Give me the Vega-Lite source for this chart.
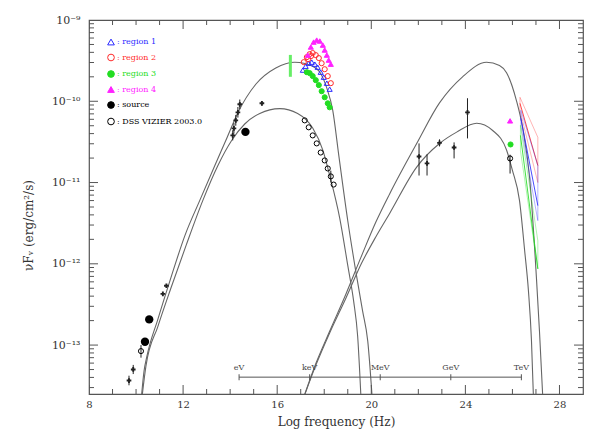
{
  "$schema": "https://vega.github.io/schema/vega-lite/v6.json",
  "width": 494,
  "height": 374,
  "autosize": "none",
  "padding": {"left": 89, "top": 20, "right": 9, "bottom": 42},
  "background": "white",
  "datasets": {
    "curves": [
      {"model": "synchrotron outer", "nu": 10.21, "f": 2.0e-14},
      {"model": "synchrotron outer", "nu": 10.34, "f": 4.79e-14},
      {"model": "synchrotron outer", "nu": 10.46, "f": 7.24e-14},
      {"model": "synchrotron outer", "nu": 10.93, "f": 2.09e-13},
      {"model": "synchrotron outer", "nu": 11.44, "f": 6.17e-13},
      {"model": "synchrotron outer", "nu": 12.08, "f": 2.24e-12},
      {"model": "synchrotron outer", "nu": 12.71, "f": 6.03e-12},
      {"model": "synchrotron outer", "nu": 13.35, "f": 1.62e-11},
      {"model": "synchrotron outer", "nu": 13.82, "f": 3.31e-11},
      {"model": "synchrotron outer", "nu": 14.33, "f": 7.24e-11},
      {"model": "synchrotron outer", "nu": 15.09, "f": 1.62e-10},
      {"model": "synchrotron outer", "nu": 15.94, "f": 2.57e-10},
      {"model": "synchrotron outer", "nu": 16.75, "f": 3.02e-10},
      {"model": "synchrotron outer", "nu": 17.51, "f": 2.69e-10},
      {"model": "synchrotron outer", "nu": 17.81, "f": 2.29e-10},
      {"model": "synchrotron outer", "nu": 18.11, "f": 1.45e-10},
      {"model": "synchrotron outer", "nu": 18.36, "f": 7.76e-11},
      {"model": "synchrotron outer", "nu": 18.62, "f": 2.14e-11},
      {"model": "synchrotron outer", "nu": 19.0, "f": 3.39e-12},
      {"model": "synchrotron outer", "nu": 19.34, "f": 8.13e-13},
      {"model": "synchrotron outer", "nu": 19.63, "f": 2.63e-13},
      {"model": "synchrotron outer", "nu": 19.85, "f": 1.12e-13},
      {"model": "synchrotron outer", "nu": 20.05, "f": 2.0e-14},
      {"model": "synchrotron inner", "nu": 10.23, "f": 2.0e-14},
      {"model": "synchrotron inner", "nu": 10.42, "f": 5.5e-14},
      {"model": "synchrotron inner", "nu": 10.93, "f": 1.7e-13},
      {"model": "synchrotron inner", "nu": 11.48, "f": 5.01e-13},
      {"model": "synchrotron inner", "nu": 12.12, "f": 1.66e-12},
      {"model": "synchrotron inner", "nu": 12.84, "f": 6.03e-12},
      {"model": "synchrotron inner", "nu": 13.48, "f": 1.62e-11},
      {"model": "synchrotron inner", "nu": 14.07, "f": 3.31e-11},
      {"model": "synchrotron inner", "nu": 14.62, "f": 5.25e-11},
      {"model": "synchrotron inner", "nu": 15.26, "f": 7.08e-11},
      {"model": "synchrotron inner", "nu": 16.11, "f": 8.13e-11},
      {"model": "synchrotron inner", "nu": 16.87, "f": 7.08e-11},
      {"model": "synchrotron inner", "nu": 17.51, "f": 4.68e-11},
      {"model": "synchrotron inner", "nu": 17.94, "f": 2.51e-11},
      {"model": "synchrotron inner", "nu": 18.23, "f": 1.23e-11},
      {"model": "synchrotron inner", "nu": 18.66, "f": 3.63e-12},
      {"model": "synchrotron inner", "nu": 19.0, "f": 9.55e-13},
      {"model": "synchrotron inner", "nu": 19.25, "f": 3.47e-13},
      {"model": "synchrotron inner", "nu": 19.42, "f": 1.29e-13},
      {"model": "synchrotron inner", "nu": 19.57, "f": 2.0e-14},
      {"model": "IC outer", "nu": 17.06, "f": 2.0e-14},
      {"model": "IC outer", "nu": 17.64, "f": 5.89e-14},
      {"model": "IC outer", "nu": 18.23, "f": 1.48e-13},
      {"model": "IC outer", "nu": 18.91, "f": 4.17e-13},
      {"model": "IC outer", "nu": 19.59, "f": 1.26e-12},
      {"model": "IC outer", "nu": 20.19, "f": 3.24e-12},
      {"model": "IC outer", "nu": 20.78, "f": 7.24e-12},
      {"model": "IC outer", "nu": 21.93, "f": 3.02e-11},
      {"model": "IC outer", "nu": 22.9, "f": 9.55e-11},
      {"model": "IC outer", "nu": 23.88, "f": 2.0e-10},
      {"model": "IC outer", "nu": 24.9, "f": 3.02e-10},
      {"model": "IC outer", "nu": 25.45, "f": 2.75e-10},
      {"model": "IC outer", "nu": 25.75, "f": 2.24e-10},
      {"model": "IC outer", "nu": 26.17, "f": 1.02e-10},
      {"model": "IC outer", "nu": 26.43, "f": 4.79e-11},
      {"model": "IC outer", "nu": 26.73, "f": 1.15e-11},
      {"model": "IC outer", "nu": 27.02, "f": 6.76e-13},
      {"model": "IC outer", "nu": 27.15, "f": 1.48e-13},
      {"model": "IC outer", "nu": 27.3, "f": 2.0e-14},
      {"model": "IC inner", "nu": 17.06, "f": 2.0e-14},
      {"model": "IC inner", "nu": 17.64, "f": 5.62e-14},
      {"model": "IC inner", "nu": 18.23, "f": 1.41e-13},
      {"model": "IC inner", "nu": 18.91, "f": 3.72e-13},
      {"model": "IC inner", "nu": 19.59, "f": 1.02e-12},
      {"model": "IC inner", "nu": 20.19, "f": 2.14e-12},
      {"model": "IC inner", "nu": 20.78, "f": 4.17e-12},
      {"model": "IC inner", "nu": 21.93, "f": 1.55e-11},
      {"model": "IC inner", "nu": 22.9, "f": 3.02e-11},
      {"model": "IC inner", "nu": 23.63, "f": 4.17e-11},
      {"model": "IC inner", "nu": 24.48, "f": 5.37e-11},
      {"model": "IC inner", "nu": 25.16, "f": 4.37e-11},
      {"model": "IC inner", "nu": 25.75, "f": 2.51e-11},
      {"model": "IC inner", "nu": 26.0, "f": 1.41e-11},
      {"model": "IC inner", "nu": 26.3, "f": 6.03e-12},
      {"model": "IC inner", "nu": 26.52, "f": 1.45e-12},
      {"model": "IC inner", "nu": 26.68, "f": 4.68e-13},
      {"model": "IC inner", "nu": 26.81, "f": 1.12e-13},
      {"model": "IC inner", "nu": 26.9, "f": 2.0e-14}
    ],
    "xticks": [
      {"nu": 8, "kind": "major"}, {"nu": 9, "kind": "minor"}, {"nu": 10, "kind": "minor"}, {"nu": 11, "kind": "minor"},
      {"nu": 12, "kind": "major"}, {"nu": 13, "kind": "minor"}, {"nu": 14, "kind": "minor"}, {"nu": 15, "kind": "minor"},
      {"nu": 16, "kind": "major"}, {"nu": 17, "kind": "minor"}, {"nu": 18, "kind": "minor"}, {"nu": 19, "kind": "minor"},
      {"nu": 20, "kind": "major"}, {"nu": 21, "kind": "minor"}, {"nu": 22, "kind": "minor"}, {"nu": 23, "kind": "minor"},
      {"nu": 24, "kind": "major"}, {"nu": 25, "kind": "minor"}, {"nu": 26, "kind": "minor"}, {"nu": 27, "kind": "minor"},
      {"nu": 28, "kind": "major"}
    ],
    "yticks": [
      {"f": 3e-14, "kind": "minor"}, {"f": 4e-14, "kind": "minor"}, {"f": 5e-14, "kind": "minor"}, {"f": 6e-14, "kind": "minor"}, {"f": 7e-14, "kind": "minor"}, {"f": 8e-14, "kind": "minor"}, {"f": 9e-14, "kind": "minor"},
      {"f": 1e-13, "kind": "major"}, {"f": 2e-13, "kind": "minor"}, {"f": 3e-13, "kind": "minor"}, {"f": 4e-13, "kind": "minor"}, {"f": 5e-13, "kind": "minor"}, {"f": 6e-13, "kind": "minor"}, {"f": 7e-13, "kind": "minor"}, {"f": 8e-13, "kind": "minor"}, {"f": 9e-13, "kind": "minor"},
      {"f": 1e-12, "kind": "major"}, {"f": 2e-12, "kind": "minor"}, {"f": 3e-12, "kind": "minor"}, {"f": 4e-12, "kind": "minor"}, {"f": 5e-12, "kind": "minor"}, {"f": 6e-12, "kind": "minor"}, {"f": 7e-12, "kind": "minor"}, {"f": 8e-12, "kind": "minor"}, {"f": 9e-12, "kind": "minor"},
      {"f": 1e-11, "kind": "major"}, {"f": 2e-11, "kind": "minor"}, {"f": 3e-11, "kind": "minor"}, {"f": 4e-11, "kind": "minor"}, {"f": 5e-11, "kind": "minor"}, {"f": 6e-11, "kind": "minor"}, {"f": 7e-11, "kind": "minor"}, {"f": 8e-11, "kind": "minor"}, {"f": 9e-11, "kind": "minor"},
      {"f": 1e-10, "kind": "major"}, {"f": 2e-10, "kind": "minor"}, {"f": 3e-10, "kind": "minor"}, {"f": 4e-10, "kind": "minor"}, {"f": 5e-10, "kind": "minor"}, {"f": 6e-10, "kind": "minor"}, {"f": 7e-10, "kind": "minor"}, {"f": 8e-10, "kind": "minor"}, {"f": 9e-10, "kind": "minor"}
    ],
    "energy": [
      {"band": "eV", "nu": 14.38, "f": 4.03e-14},
      {"band": "keV", "nu": 17.38, "f": 4.03e-14},
      {"band": "MeV", "nu": 20.38, "f": 4.03e-14},
      {"band": "GeV", "nu": 23.38, "f": 4.03e-14},
      {"band": "TeV", "nu": 26.38, "f": 4.03e-14}
    ],
    "errbars": [
      {"nu": 14.41, "lo": 8.0e-11, "hi": 1.05e-10},
      {"nu": 14.33, "lo": 6.3e-11, "hi": 8.5e-11},
      {"nu": 14.24, "lo": 5.0e-11, "hi": 6.8e-11},
      {"nu": 14.16, "lo": 4.0e-11, "hi": 5.4e-11},
      {"nu": 14.11, "lo": 3.3e-11, "hi": 4.4e-11},
      {"nu": 15.35, "lo": 8.9e-11, "hi": 1.0e-10},
      {"nu": 10.21, "lo": 7.0e-14, "hi": 1.0e-13},
      {"nu": 9.88, "lo": 4.4e-14, "hi": 5.7e-14},
      {"nu": 9.7, "lo": 3.2e-14, "hi": 4.2e-14},
      {"nu": 22.03, "lo": 1.22e-11, "hi": 3.03e-11},
      {"nu": 22.37, "lo": 1.22e-11, "hi": 2.22e-11},
      {"nu": 22.9, "lo": 2.78e-11, "hi": 3.4e-11},
      {"nu": 23.52, "lo": 1.98e-11, "hi": 3.12e-11},
      {"nu": 24.09, "lo": 3.49e-11, "hi": 1.09e-10},
      {"nu": 25.9, "lo": 1.29e-11, "hi": 2.2e-11},
      {"nu": 18.28, "lo": 1.0e-11, "hi": 1.4e-11}
    ],
    "uvbar": [
      {"nu": 16.56, "lo": 2.0e-10, "hi": 3.72e-10}
    ],
    "crosses": [
      {"nu": 9.88, "f": 5.01e-14},
      {"nu": 9.7, "f": 3.66e-14},
      {"nu": 11.14, "f": 4.27e-13},
      {"nu": 11.29, "f": 5.37e-13},
      {"nu": 15.35, "f": 9.44e-11},
      {"nu": 14.41, "f": 9.18e-11},
      {"nu": 14.33, "f": 7.31e-11},
      {"nu": 14.24, "f": 5.82e-11},
      {"nu": 14.16, "f": 4.64e-11},
      {"nu": 14.11, "f": 3.8e-11},
      {"nu": 22.03, "f": 2.09e-11},
      {"nu": 22.37, "f": 1.72e-11},
      {"nu": 22.9, "f": 3.08e-11},
      {"nu": 23.52, "f": 2.7e-11},
      {"nu": 24.09, "f": 7.31e-11}
    ],
    "butterflies": [
      {"series": "region 2", "part": "outline", "ord": 1, "nu": 26.32, "f": 1.12e-10},
      {"series": "region 2", "part": "outline", "ord": 2, "nu": 27.08, "f": 3.6e-11},
      {"series": "region 2", "part": "outline", "ord": 3, "nu": 27.08, "f": 1.0e-11},
      {"series": "region 2", "part": "outline", "ord": 4, "nu": 26.32, "f": 7.74e-11},
      {"series": "region 2", "part": "outline", "ord": 5, "nu": 26.32, "f": 1.12e-10},
      {"series": "region 2", "part": "fit", "ord": 1, "nu": 26.32, "f": 9.44e-11},
      {"series": "region 2", "part": "fit", "ord": 2, "nu": 27.08, "f": 1.62e-11},
      {"series": "region 1", "part": "outline", "ord": 1, "nu": 26.36, "f": 7.74e-11},
      {"series": "region 1", "part": "outline", "ord": 2, "nu": 27.08, "f": 1.62e-11},
      {"series": "region 1", "part": "outline", "ord": 3, "nu": 27.08, "f": 3.4e-12},
      {"series": "region 1", "part": "outline", "ord": 4, "nu": 26.36, "f": 5.06e-11},
      {"series": "region 1", "part": "outline", "ord": 5, "nu": 26.36, "f": 7.74e-11},
      {"series": "region 1", "part": "fit", "ord": 1, "nu": 26.36, "f": 6.17e-11},
      {"series": "region 1", "part": "fit", "ord": 2, "nu": 27.08, "f": 5.2e-12},
      {"series": "region 3", "part": "outline", "ord": 1, "nu": 26.34, "f": 5.06e-11},
      {"series": "region 3", "part": "outline", "ord": 2, "nu": 27.08, "f": 1.92e-12},
      {"series": "region 3", "part": "outline", "ord": 3, "nu": 27.08, "f": 8.67e-13},
      {"series": "region 3", "part": "outline", "ord": 4, "nu": 26.34, "f": 2.48e-11},
      {"series": "region 3", "part": "outline", "ord": 5, "nu": 26.34, "f": 5.06e-11},
      {"series": "region 3", "part": "fit", "ord": 1, "nu": 26.34, "f": 3.8e-11},
      {"series": "region 3", "part": "fit", "ord": 2, "nu": 27.08, "f": 8.67e-13}
    ],
    "spectra": [
      {"series": "region 1", "nu": 17.09, "f": 2.42e-10},
      {"series": "region 1", "nu": 17.21, "f": 2.7e-10},
      {"series": "region 1", "nu": 17.34, "f": 2.94e-10},
      {"series": "region 1", "nu": 17.47, "f": 3.03e-10},
      {"series": "region 1", "nu": 17.6, "f": 2.86e-10},
      {"series": "region 1", "nu": 17.72, "f": 2.63e-10},
      {"series": "region 1", "nu": 17.85, "f": 2.28e-10},
      {"series": "region 1", "nu": 17.98, "f": 1.98e-10},
      {"series": "region 1", "nu": 18.11, "f": 1.67e-10},
      {"series": "region 1", "nu": 18.23, "f": 1.41e-10},
      {"series": "region 2", "nu": 17.13, "f": 3.03e-10},
      {"series": "region 2", "nu": 17.26, "f": 3.49e-10},
      {"series": "region 2", "nu": 17.32, "f": 3.3e-10},
      {"series": "region 2", "nu": 17.38, "f": 3.8e-10},
      {"series": "region 2", "nu": 17.44, "f": 3.6e-10},
      {"series": "region 2", "nu": 17.51, "f": 3.92e-10},
      {"series": "region 2", "nu": 17.64, "f": 3.7e-10},
      {"series": "region 2", "nu": 17.77, "f": 3.4e-10},
      {"series": "region 2", "nu": 17.89, "f": 2.94e-10},
      {"series": "region 2", "nu": 18.02, "f": 2.48e-10},
      {"series": "region 2", "nu": 18.15, "f": 2.04e-10},
      {"series": "region 2", "nu": 18.28, "f": 1.67e-10},
      {"series": "region 3", "nu": 17.26, "f": 2.28e-10},
      {"series": "region 3", "nu": 17.38, "f": 2.22e-10},
      {"series": "region 3", "nu": 17.51, "f": 2.04e-10},
      {"series": "region 3", "nu": 17.64, "f": 1.82e-10},
      {"series": "region 3", "nu": 17.77, "f": 1.58e-10},
      {"series": "region 3", "nu": 17.89, "f": 1.33e-10},
      {"series": "region 3", "nu": 18.02, "f": 1.12e-10},
      {"series": "region 3", "nu": 18.15, "f": 9.44e-11},
      {"series": "region 3", "nu": 18.23, "f": 8.43e-11},
      {"series": "region 3", "nu": 25.92, "f": 2.94e-11},
      {"series": "region 4", "nu": 17.3, "f": 3.7e-10},
      {"series": "region 4", "nu": 17.43, "f": 4.65e-10},
      {"series": "region 4", "nu": 17.55, "f": 5.35e-10},
      {"series": "region 4", "nu": 17.68, "f": 5.66e-10},
      {"series": "region 4", "nu": 17.81, "f": 5.51e-10},
      {"series": "region 4", "nu": 17.94, "f": 4.91e-10},
      {"series": "region 4", "nu": 18.02, "f": 4.27e-10},
      {"series": "region 4", "nu": 18.11, "f": 3.7e-10},
      {"series": "region 4", "nu": 18.19, "f": 3.21e-10},
      {"series": "region 4", "nu": 18.28, "f": 2.86e-10},
      {"series": "region 4", "nu": 25.9, "f": 5.74e-11},
      {"series": "DSS VIZIER 2003.0", "nu": 17.17, "f": 5.82e-11},
      {"series": "DSS VIZIER 2003.0", "nu": 17.34, "f": 4.78e-11},
      {"series": "DSS VIZIER 2003.0", "nu": 17.51, "f": 3.8e-11},
      {"series": "DSS VIZIER 2003.0", "nu": 17.68, "f": 3.03e-11},
      {"series": "DSS VIZIER 2003.0", "nu": 17.85, "f": 2.34e-11},
      {"series": "DSS VIZIER 2003.0", "nu": 18.02, "f": 1.87e-11},
      {"series": "DSS VIZIER 2003.0", "nu": 18.15, "f": 1.49e-11},
      {"series": "DSS VIZIER 2003.0", "nu": 18.28, "f": 1.19e-11},
      {"series": "DSS VIZIER 2003.0", "nu": 18.4, "f": 9.44e-12},
      {"series": "DSS VIZIER 2003.0", "nu": 10.21, "f": 8.43e-14},
      {"series": "DSS VIZIER 2003.0", "nu": 25.9, "f": 1.98e-11}
    ],
    "bigdots": [
      {"series": "source", "nu": 10.56, "f": 2.07e-13},
      {"series": "source", "nu": 10.38, "f": 1.1e-13},
      {"series": "source", "nu": 14.65, "f": 4.2e-11}
    ]
  },
  "layer": [
    {
      "data": {"name": "curves"},
      "mark": {"type": "line", "interpolate": "monotone", "stroke": "#666666", "strokeWidth": 1.1, "clip": true},
      "encoding": {
        "x": {"field": "nu", "type": "quantitative", "scale": {"domain": [8, 29], "nice": false, "zero": false},
          "axis": {"orient": "bottom", "values": [8, 12, 16, 20, 24, 28], "domain": false, "ticks": false, "grid": false,
            "labelPadding": 5, "labelFlush": false, "labelOverlap": false,
            "title": "Log frequency (Hz)", "titleY": 27, "titleBaseline": "middle"}},
        "y": {"field": "f", "type": "quantitative", "scale": {"type": "log", "domain": [2.5e-14, 1e-9], "nice": false},
          "axis": {"orient": "left", "values": [1e-13, 1e-12, 1e-11, 1e-10, 1e-9], "domain": false, "ticks": false, "grid": false,
            "labelExpr": "datum.value == 1e-9 ? '10⁻⁹' : datum.value == 1e-10 ? '10⁻¹⁰' : datum.value == 1e-11 ? '10⁻¹¹' : datum.value == 1e-12 ? '10⁻¹²' : '10⁻¹³'",
            "labelPadding": 9, "labelFontSize": 11, "labelFlush": false, "labelOverlap": false,
            "title": "νFᵥ (erg/cm²/s)", "titleX": -61, "titleY": 205, "titleBaseline": "middle"}},
        "detail": {"field": "model"}
      }
    },
    {
      "data": {"name": "xticks"},
      "mark": {"type": "tick", "orient": "vertical", "thickness": 1, "color": "#555555", "opacity": 1, "clip": true},
      "encoding": {
        "x": {"field": "nu", "type": "quantitative", "scale": {"domain": [8, 29], "nice": false, "zero": false}},
        "y": {"datum": 2.5e-14, "type": "quantitative", "scale": {"type": "log", "domain": [2.5e-14, 1e-9], "nice": false}},
        "size": {"field": "kind", "type": "nominal", "scale": {"domain": ["major", "minor"], "range": [18, 10]}, "legend": null}
      }
    },
    {
      "data": {"name": "xticks"},
      "mark": {"type": "tick", "orient": "vertical", "thickness": 1, "color": "#555555", "opacity": 1, "clip": true},
      "encoding": {
        "x": {"field": "nu", "type": "quantitative", "scale": {"domain": [8, 29], "nice": false, "zero": false}},
        "y": {"datum": 1e-9, "type": "quantitative", "scale": {"type": "log", "domain": [2.5e-14, 1e-9], "nice": false}},
        "size": {"field": "kind", "type": "nominal", "scale": {"domain": ["major", "minor"], "range": [18, 10]}, "legend": null}
      }
    },
    {
      "data": {"name": "yticks"},
      "mark": {"type": "tick", "orient": "horizontal", "thickness": 1, "color": "#555555", "opacity": 1, "clip": true},
      "encoding": {
        "x": {"datum": 8, "type": "quantitative", "scale": {"domain": [8, 29], "nice": false, "zero": false}},
        "y": {"field": "f", "type": "quantitative", "scale": {"type": "log", "domain": [2.5e-14, 1e-9], "nice": false}},
        "size": {"field": "kind", "type": "nominal", "scale": {"domain": ["major", "minor"], "range": [18, 10]}, "legend": null}
      }
    },
    {
      "data": {"name": "yticks"},
      "mark": {"type": "tick", "orient": "horizontal", "thickness": 1, "color": "#555555", "opacity": 1, "clip": true},
      "encoding": {
        "x": {"datum": 29, "type": "quantitative", "scale": {"domain": [8, 29], "nice": false, "zero": false}},
        "y": {"field": "f", "type": "quantitative", "scale": {"type": "log", "domain": [2.5e-14, 1e-9], "nice": false}},
        "size": {"field": "kind", "type": "nominal", "scale": {"domain": ["major", "minor"], "range": [18, 10]}, "legend": null}
      }
    },
    {
      "data": {"name": "energy"},
      "mark": {"type": "rule", "stroke": "#555555", "strokeWidth": 1},
      "encoding": {
        "x": {"aggregate": "min", "field": "nu", "type": "quantitative", "scale": {"domain": [8, 29], "nice": false, "zero": false}},
        "x2": {"aggregate": "max", "field": "nu"},
        "y": {"aggregate": "min", "field": "f", "type": "quantitative", "scale": {"type": "log", "domain": [2.5e-14, 1e-9], "nice": false}}
      }
    },
    {
      "data": {"name": "energy"},
      "mark": {"type": "tick", "orient": "vertical", "size": 6, "thickness": 1, "color": "#555555", "opacity": 1},
      "encoding": {
        "x": {"field": "nu", "type": "quantitative", "scale": {"domain": [8, 29], "nice": false, "zero": false}},
        "y": {"field": "f", "type": "quantitative", "scale": {"type": "log", "domain": [2.5e-14, 1e-9], "nice": false}}
      }
    },
    {
      "data": {"name": "energy"},
      "mark": {"type": "text", "dy": -9, "fontSize": 8, "font": "DejaVu Serif", "color": "#444444"},
      "encoding": {
        "x": {"field": "nu", "type": "quantitative", "scale": {"domain": [8, 29], "nice": false, "zero": false}},
        "y": {"field": "f", "type": "quantitative", "scale": {"type": "log", "domain": [2.5e-14, 1e-9], "nice": false}},
        "text": {"field": "band"}
      }
    },
    {
      "data": {"name": "errbars"},
      "mark": {"type": "rule", "color": "#222222", "strokeWidth": 1},
      "encoding": {
        "x": {"field": "nu", "type": "quantitative", "scale": {"domain": [8, 29], "nice": false, "zero": false}},
        "y": {"field": "lo", "type": "quantitative", "scale": {"type": "log", "domain": [2.5e-14, 1e-9], "nice": false}},
        "y2": {"field": "hi"}
      }
    },
    {
      "data": {"name": "uvbar"},
      "mark": {"type": "rule", "color": "#66ee66", "strokeWidth": 3},
      "encoding": {
        "x": {"field": "nu", "type": "quantitative", "scale": {"domain": [8, 29], "nice": false, "zero": false}},
        "y": {"field": "lo", "type": "quantitative", "scale": {"type": "log", "domain": [2.5e-14, 1e-9], "nice": false}},
        "y2": {"field": "hi"}
      }
    },
    {
      "data": {"name": "crosses"},
      "mark": {"type": "point", "shape": "cross", "filled": true, "size": 22, "color": "#222222", "opacity": 1},
      "encoding": {
        "x": {"field": "nu", "type": "quantitative", "scale": {"domain": [8, 29], "nice": false, "zero": false}},
        "y": {"field": "f", "type": "quantitative", "scale": {"type": "log", "domain": [2.5e-14, 1e-9], "nice": false}}
      }
    },
    {
      "data": {"name": "butterflies"},
      "mark": {"type": "line", "clip": true},
      "encoding": {
        "x": {"field": "nu", "type": "quantitative", "scale": {"domain": [8, 29], "nice": false, "zero": false}},
        "y": {"field": "f", "type": "quantitative", "scale": {"type": "log", "domain": [2.5e-14, 1e-9], "nice": false}},
        "order": {"field": "ord", "type": "quantitative"},
        "detail": [{"field": "series"}, {"field": "part"}],
        "stroke": {"field": "series", "type": "nominal",
          "scale": {"domain": ["region 1", "region 2", "region 3", "region 4", "source", "DSS VIZIER 2003.0"], "range": ["#2a2aff", "#ff2a2a", "#22dd22", "#ff22ff", "#000000", "#000000"]}},
        "strokeWidth": {"field": "part", "type": "nominal", "scale": {"domain": ["outline", "fit"], "range": [0.7, 1.0]}, "legend": null},
        "strokeOpacity": {"field": "part", "type": "nominal", "scale": {"domain": ["outline", "fit"], "range": [0.5, 0.85]}, "legend": null}
      }
    },
    {
      "data": {"name": "spectra"},
      "mark": {"type": "point", "filled": true, "size": 26, "strokeWidth": 1, "opacity": 1},
      "encoding": {
        "x": {"field": "nu", "type": "quantitative", "scale": {"domain": [8, 29], "nice": false, "zero": false}},
        "y": {"field": "f", "type": "quantitative", "scale": {"type": "log", "domain": [2.5e-14, 1e-9], "nice": false}},
        "shape": {"field": "series", "type": "nominal",
          "scale": {"domain": ["region 1", "region 2", "region 3", "region 4", "source", "DSS VIZIER 2003.0"], "range": ["triangle-up", "circle", "circle", "triangle-up", "circle", "circle"]},
          "legend": {"orient": "none", "legendX": 18, "legendY": 18, "title": null, "padding": 0, "rowPadding": 4.5, "symbolSize": 45, "symbolStrokeWidth": 1, "symbolOpacity": 1,
            "labelFont": "DejaVu Serif", "labelFontSize": 8, "labelOffset": 2, "labelExpr": "': ' + datum.label",
            "labelColor": {"expr": "datum.value == 'region 1' ? '#2a2aff' : datum.value == 'region 2' ? '#ff2a2a' : datum.value == 'region 3' ? '#22dd22' : datum.value == 'region 4' ? '#ff22ff' : '#000000'"}}},
        "fill": {"field": "series", "type": "nominal",
          "scale": {"domain": ["region 1", "region 2", "region 3", "region 4", "source", "DSS VIZIER 2003.0"], "range": ["transparent", "transparent", "#22dd22", "#ff22ff", "#000000", "transparent"]},
          "legend": {"orient": "none", "legendX": 18, "legendY": 18, "title": null, "padding": 0, "rowPadding": 4.5, "symbolSize": 45, "symbolStrokeWidth": 1, "symbolOpacity": 1,
            "labelFont": "DejaVu Serif", "labelFontSize": 8, "labelOffset": 2, "labelExpr": "': ' + datum.label",
            "labelColor": {"expr": "datum.value == 'region 1' ? '#2a2aff' : datum.value == 'region 2' ? '#ff2a2a' : datum.value == 'region 3' ? '#22dd22' : datum.value == 'region 4' ? '#ff22ff' : '#000000'"}}},
        "stroke": {"field": "series", "type": "nominal",
          "scale": {"domain": ["region 1", "region 2", "region 3", "region 4", "source", "DSS VIZIER 2003.0"], "range": ["#2a2aff", "#ff2a2a", "#22dd22", "#ff22ff", "#000000", "#000000"]},
          "legend": {"orient": "none", "legendX": 18, "legendY": 18, "title": null, "padding": 0, "rowPadding": 4.5, "symbolSize": 45, "symbolStrokeWidth": 1, "symbolOpacity": 1,
            "labelFont": "DejaVu Serif", "labelFontSize": 8, "labelOffset": 2, "labelExpr": "': ' + datum.label",
            "labelColor": {"expr": "datum.value == 'region 1' ? '#2a2aff' : datum.value == 'region 2' ? '#ff2a2a' : datum.value == 'region 3' ? '#22dd22' : datum.value == 'region 4' ? '#ff22ff' : '#000000'"}}}
      }
    },
    {
      "data": {"name": "bigdots"},
      "mark": {"type": "point", "shape": "circle", "filled": true, "size": 70, "color": "#000000", "opacity": 1},
      "encoding": {
        "x": {"field": "nu", "type": "quantitative", "scale": {"domain": [8, 29], "nice": false, "zero": false}},
        "y": {"field": "f", "type": "quantitative", "scale": {"type": "log", "domain": [2.5e-14, 1e-9], "nice": false}}
      }
    }
  ],
  "config": {
    "view": {"stroke": "#555555", "strokeWidth": 1.2},
    "font": "DejaVu Serif",
    "axis": {"labelFont": "DejaVu Serif", "labelFontSize": 10, "labelColor": "#333333",
      "titleFont": "DejaVu Serif", "titleFontSize": 12, "titleFontWeight": "normal", "titleColor": "#333333"}
  }
}
